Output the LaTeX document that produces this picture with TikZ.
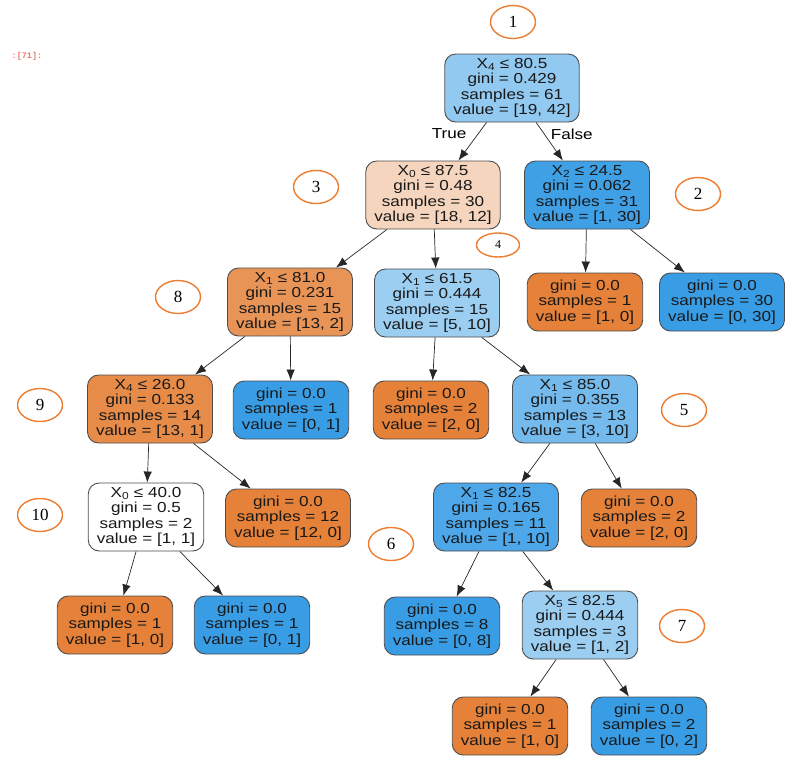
\documentclass[tikz,border=0pt]{standalone}
\usepackage{fontspec}
\usetikzlibrary{shapes.geometric,arrows.meta}
\newfontfamily\treefont[FakeStretch=1.18]{Liberation Sans}
\newfontfamily\tagfont{Liberation Serif}
\newfontfamily\promptfont{Liberation Mono}
\definecolor{orangeleaf}{RGB}{229,129,57}
\definecolor{blueleaf}{RGB}{57,157,229}
\definecolor{tagline}{RGB}{237,125,49}
\definecolor{promptred}{RGB}{232,120,110}
\tikzset{>={Latex[length=11pt,width=8.5pt]}}
\tikzset{
  box/.style = {draw=black!70, line width=0.9pt, rounded corners=11pt,
    align=center, inner xsep=8.5pt, inner ysep=3pt, text=black!90,
    font=\treefont\fontsize{14.5}{15.5}\selectfont},
  split/.style = {box, minimum height=68pt},
  leaf/.style  = {box, minimum height=58pt},
  tag/.style   = {ellipse, draw=tagline, line width=1.4pt, fill=white,
    minimum width=45pt, minimum height=33pt, inner sep=0pt,
    font=\tagfont\fontsize{17}{17}\selectfont},
  arc/.style   = {->, draw=black!85, line width=0.7pt}
}

\begin{document}
\begin{tikzpicture}[x=1pt,y=-1pt]
  \useasboundingbox (0,0) rectangle (785,756);
  \node[text=promptred, font=\promptfont\bfseries\fontsize{8.5}{8.5}\selectfont] (prompt) at (27,56) {:[71]:};

  % tree
  \node[split, fill=blueleaf!55]   (n0)  at (512,88)  {X\textsubscript{4} ≤ 80.5\\gini = 0.429\\samples = 61\\value = [19, 42]};
  \node[split, fill=orangeleaf!33] (n1)  at (433,195) {X\textsubscript{0} ≤ 87.5\\gini = 0.48\\samples = 30\\value = [18, 12]};
  \node[split, fill=blueleaf!97]   (n18) at (587,195) {X\textsubscript{2} ≤ 24.5\\gini = 0.062\\samples = 31\\value = [1, 30]};
  \node[split, fill=orangeleaf!85] (n2)  at (290,302) {X\textsubscript{1} ≤ 81.0\\gini = 0.231\\samples = 15\\value = [13, 2]};
  \node[split, fill=blueleaf!50]   (n9)  at (437,303) {X\textsubscript{1} ≤ 61.5\\gini = 0.444\\samples = 15\\value = [5, 10]};
  \node[leaf,  fill=orangeleaf]    (n19) at (585,302) {gini = 0.0\\samples = 1\\value = [1, 0]};
  \node[leaf,  fill=blueleaf]      (n20) at (722,302) {gini = 0.0\\samples = 30\\value = [0, 30]};
  \node[split, fill=orangeleaf!92] (n3)  at (150,409) {X\textsubscript{4} ≤ 26.0\\gini = 0.133\\samples = 14\\value = [13, 1]};
  \node[leaf,  fill=blueleaf]      (n8)  at (291,410) {gini = 0.0\\samples = 1\\value = [0, 1]};
  \node[leaf,  fill=orangeleaf]    (n10) at (431,410) {gini = 0.0\\samples = 2\\value = [2, 0]};
  \node[split, fill=blueleaf!70]   (n11) at (575,409) {X\textsubscript{1} ≤ 85.0\\gini = 0.355\\samples = 13\\value = [3, 10]};
  \node[split, fill=white]         (n4)  at (146,517) {X\textsubscript{0} ≤ 40.0\\gini = 0.5\\samples = 2\\value = [1, 1]};
  \node[leaf,  fill=orangeleaf]    (n7)  at (288,518) {gini = 0.0\\samples = 12\\value = [12, 0]};
  \node[split, fill=blueleaf!90]   (n12) at (496,517) {X\textsubscript{1} ≤ 82.5\\gini = 0.165\\samples = 11\\value = [1, 10]};
  \node[leaf,  fill=orangeleaf]    (n17) at (639,518) {gini = 0.0\\samples = 2\\value = [2, 0]};
  \node[leaf,  fill=orangeleaf]    (n5)  at (115,625) {gini = 0.0\\samples = 1\\value = [1, 0]};
  \node[leaf,  fill=blueleaf]      (n6)  at (252,625) {gini = 0.0\\samples = 1\\value = [0, 1]};
  \node[leaf,  fill=blueleaf]      (n13) at (442,626) {gini = 0.0\\samples = 8\\value = [0, 8]};
  \node[split, fill=blueleaf!50]   (n14) at (580,625) {X\textsubscript{5} ≤ 82.5\\gini = 0.444\\samples = 3\\value = [1, 2]};
  \node[leaf,  fill=orangeleaf]    (n15) at (510,726) {gini = 0.0\\samples = 1\\value = [1, 0]};
  \node[leaf,  fill=blueleaf]      (n16) at (649,726) {gini = 0.0\\samples = 2\\value = [0, 2]};

  \draw[arc] (n0) -- (n1)  node[pos=.3, left=8pt,  font=\treefont\fontsize{14.5}{14.5}\selectfont] {True};
  \draw[arc] (n0) -- (n18) node[pos=.3, right=3pt, font=\treefont\fontsize{14.5}{14.5}\selectfont] {False};
  \draw[arc] (n1) -- (n2);
  \draw[arc] (n1) -- (n9);
  \draw[arc] (n18) -- (n19);
  \draw[arc] (n18) -- (n20);
  \draw[arc] (n2) -- (n3);
  \draw[arc] (n2) -- (n8);
  \draw[arc] (n9) -- (n10);
  \draw[arc] (n9) -- (n11);
  \draw[arc] (n3) -- (n4);
  \draw[arc] (n3) -- (n7);
  \draw[arc] (n11) -- (n12);
  \draw[arc] (n11) -- (n17);
  \draw[arc] (n4) -- (n5);
  \draw[arc] (n4) -- (n6);
  \draw[arc] (n12) -- (n13);
  \draw[arc] (n12) -- (n14);
  \draw[arc] (n14) -- (n15);
  \draw[arc] (n14) -- (n16);

  % numbered tags
  \node[tag] (t1)  at (513,22)  {1};
  \node[tag] (t2)  at (698,194) {2};
  \node[tag] (t3)  at (316,187) {3};
  \node[tag, minimum width=43pt, minimum height=24pt, font=\tagfont\fontsize{12}{12}\selectfont] (t4) at (498,245) {4};
  \node[tag] (t5)  at (684,410) {5};
  \node[tag] (t6)  at (391,544) {6};
  \node[tag] (t7)  at (682,626) {7};
  \node[tag] (t8)  at (178,297) {8};
  \node[tag] (t9)  at (40,405)  {9};
  \node[tag] (t10) at (40,515)  {10};
\end{tikzpicture}
\end{document}
